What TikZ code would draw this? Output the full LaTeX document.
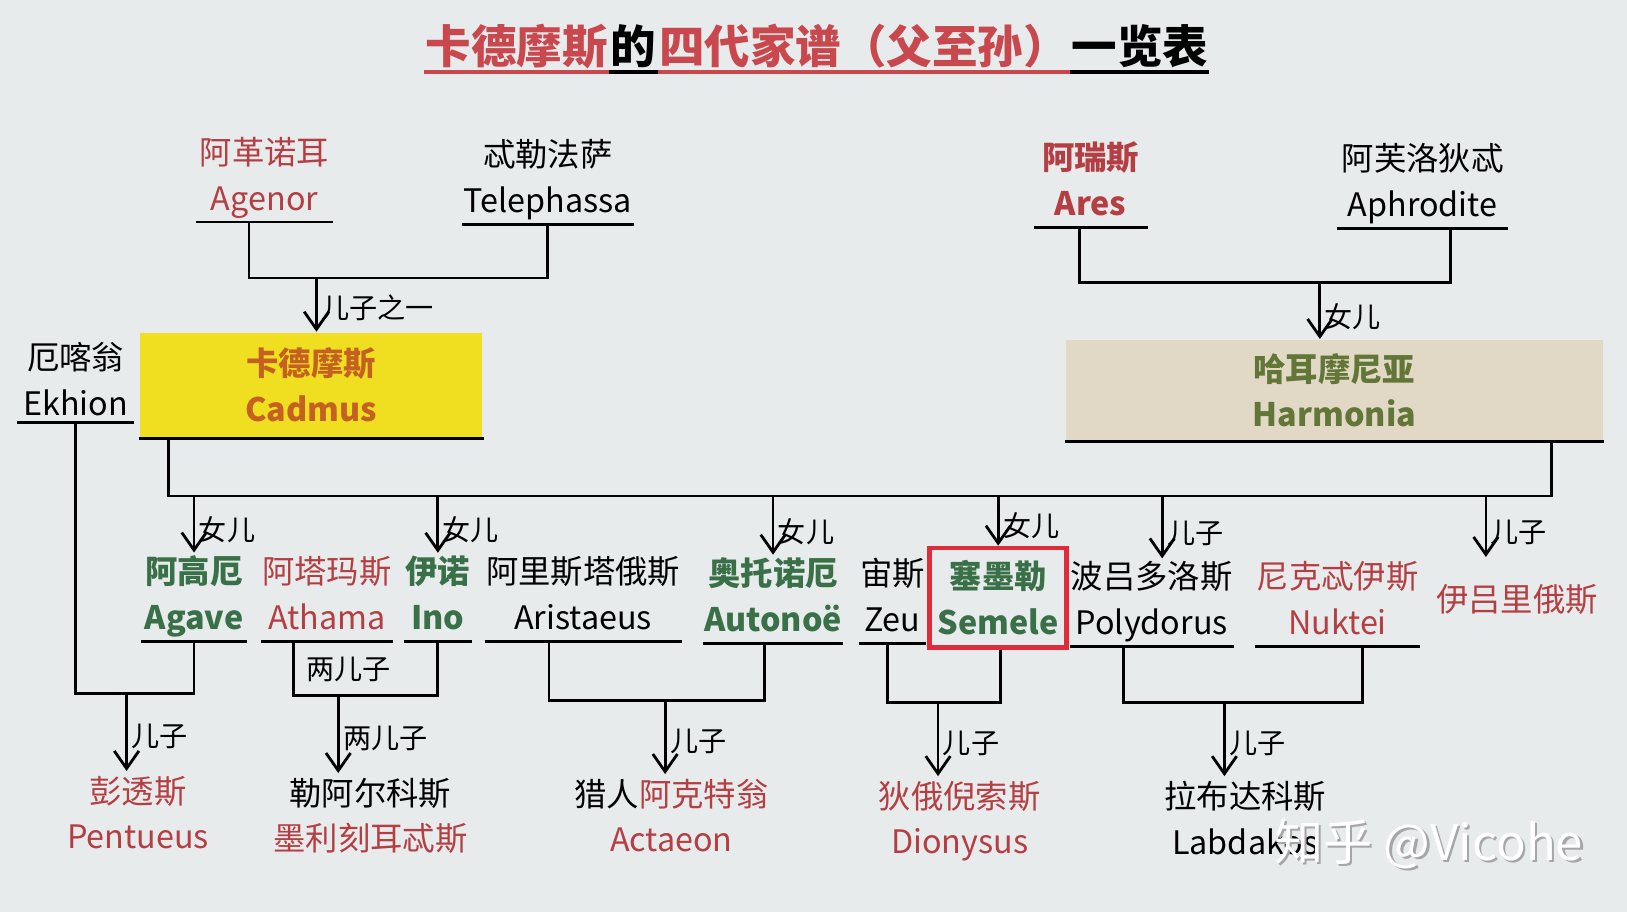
\documentclass[tikz,border=0pt]{standalone}
\usepackage{fontspec}
\setmainfont{Noto Sans CJK SC}
\usetikzlibrary{arrows.meta,chains,positioning,calc}

\definecolor{paper}{RGB}{231,235,236}
\definecolor{namered}{RGB}{180,62,66}
\definecolor{titlered}{RGB}{200,72,78}
\definecolor{namegreen}{RGB}{58,112,72}
\definecolor{olive}{RGB}{98,118,56}
\definecolor{cadorange}{RGB}{196,96,34}
\definecolor{cadyellow}{RGB}{240,222,32}
\definecolor{harbeige}{RGB}{225,216,198}
\definecolor{boxred}{RGB}{222,44,58}
\newcommand\namefont{\fontsize{9.2}{13}\selectfont}

\begin{document}
\begin{tikzpicture}[x=0.010376cm, y=-0.010376cm,
node distance=0pt,
 start chain = T going right,
 line width=0.8pt,
     ttl/.style = {inner sep=0pt, text height=11.2pt, text depth=2pt,% title pieces (chain)
                   font=\fontsize{12.95}{16}\selectfont\bfseries, on chain},
  person/.style = {align=center, anchor=south, inner xsep=0pt, inner ysep=0.5pt,
                   text depth=2.5pt, font=\namefont},
     box/.style = {align=center, inner sep=0pt, font=\namefont\bfseries},
     kid/.style = {align=center, anchor=north, inner sep=1pt, font=\namefont},
      hw/.style = {font=\fontsize{8}{8}\selectfont, inner sep=1pt},% handwritten notes
     arr/.style = {-{Straight Barb[length=5pt,width=7pt]}},
      wm/.style = {font=\fontsize{14}{14}\selectfont},
                        ]
\fill[paper] (0,0) rectangle (1568,879);
\useasboundingbox (0,0) rectangle (1568,879);

% title
\node[ttl, anchor=west, text=titlered] at (409,46) {卡德摩斯};
\node[ttl] {的};
\node[ttl, text=titlered] {四代家谱（父至孙）};
\node[ttl] {一览表};
\foreach \i/\c in {1/titlered,2/black,3/titlered,4/black}
    \draw[\c, line width=1.1pt] (T-\i.south west) -- (T-\i.south east);

% first generation
\node[person, text=namered, minimum width=38.4pt] (agenor) at (255,214) {阿革诺耳\\Agenor};
\node[person, minimum width=48.1pt] (telephassa) at (528,216) {忒勒法萨\\Telephassa};
\node[person, text=namered, minimum width=31.6pt, font=\namefont\bfseries] (ares) at (1051,219) {阿瑞斯\\Ares};
\node[person, minimum width=47.8pt] (aphrodite) at (1371,220) {阿芙洛狄忒\\Aphrodite};

% second generation
\node[box, fill=cadyellow, text=cadorange, minimum width=97.4pt, minimum height=29.5pt] (cadmus) at (300,371) {卡德摩斯\\Cadmus};
\node[box, fill=harbeige, text=olive, minimum width=152.6pt, minimum height=28.3pt] (harmonia) at (1286,376) {哈耳摩尼亚\\Harmonia};
\node[person, minimum width=32.5pt, text depth=1pt] (ekhion) at (73,407) {厄喀翁\\Ekhion};
\draw (cadmus.south west) -- (cadmus.south east);
\draw (harmonia.south west) -- (harmonia.south east);

% third generation
\node[person, text=namegreen, minimum width=29.5pt, font=\namefont\bfseries] (agave) at (187,618) {阿高厄\\Agave};
\node[person, text=namered, minimum width=35.4pt] (athama) at (315,618) {阿塔玛斯\\Athama};
\node[person, text=namegreen, minimum width=17.4pt, font=\namefont\bfseries] (ino) at (422,618) {伊诺\\Ino};
\node[person, minimum width=47.2pt] (aristaeus) at (562,618) {阿里斯塔俄斯\\Aristaeus};
\node[person, text=namegreen, minimum width=38.4pt, font=\namefont\bfseries] (autonoe) at (745,620) {奥托诺厄\\Autonoë};
\node[person, minimum width=16.2pt] (zeus) at (860,620) {宙斯\\Zeu};
\node[box, draw=boxred, line width=1.3pt, text=namegreen, minimum width=39pt, minimum height=28.3pt] (semele) at (962,576) {塞墨勒\\Semele};
\node[person, minimum width=42.8pt] (polydorus) at (1110,623) {波吕多洛斯\\Polydorus};
\node[person, text=namered, minimum width=42.5pt] (nuktei) at (1289,623) {尼克忒伊斯\\Nuktei};
\node[text=namered, font=\namefont] (ilyr) at (1462,578) {伊吕里俄斯};

\foreach \n in {agenor,telephassa,ares,aphrodite,ekhion,agave,athama,ino,aristaeus,autonoe,zeus,polydorus,nuktei}
    \draw (\n.south west) -- (\n.south east);

% fourth generation
\node[kid, text=namered] (pentheus) at (133,743) {彭透斯\\Pentueus};
\node[kid] (learchus) at (357,745) {勒阿尔科斯\\\textcolor{namered}{墨利刻耳忒斯}};
\node[kid] (actaeon) at (647,746) {猎人\textcolor{namered}{阿克特翁}\\\textcolor{namered}{Actaeon}};
\node[kid, text=namered] (dionysus) at (925,748) {狄俄倪索斯\\Dionysus};
\node[kid] (labdakos) at (1200,748) {拉布达科斯\\Labdakos};

% parents -> children
\coordinate (jCad) at (305,268);
\draw ($(agenor.south)+(-15,0)$) |- (jCad) -| (telephassa.south);
\draw[arr] (jCad) -- (jCad |- cadmus.north) node[hw, right, pos=.55] {儿子之一};
\coordinate (jHar) at (1272,272);
\draw ($(ares.south)+(-11,0)$) |- (jHar) -| ($(aphrodite.south)+(27,0)$);
\draw[arr] (jHar) -- (jHar |- harmonia.north) node[hw, right, pos=.6] {女儿};

\coordinate (busL) at (162,478);
\coordinate (busR) at (1495,478);
\draw (cadmus.south -| busL) -- (busL) -- (busR) -- (harmonia.south -| busR);
\foreach \n/\t in {agave/女儿,ino/女儿,autonoe/女儿,semele/女儿}
    \draw[arr] (busL -| \n.north) -- (\n.north) node[hw, right, pos=.6] {\t};
\coordinate (aPol) at ($(polydorus.north)+(10,0)$);
\draw[arr] (busL -| aPol) -- (aPol) node[hw, right, pos=.6] {儿子};
\coordinate (aIly) at ($(ilyr.north)+(-30,-14)$);
\draw[arr] (busL -| aIly) -- (aIly) node[hw, right, pos=.6] {儿子};

\coordinate (jPen) at (122,668);
\draw (ekhion.south) |- (jPen) -| (agave.south);
\draw[arr] (jPen) -- (jPen |- pentheus.north) node[hw, right, pos=.55] {儿子};
\coordinate (jLea) at (326,670);
\draw ($(athama.south)+(-32,0)$) |- (jLea) -| (ino.south);
\node[hw] (twoA) at (336,645) {两儿子};
\draw[arr] (jLea) -- (jLea |- learchus.north) node[hw, right, pos=.55] {两儿子};
\coordinate (jAct) at (641,675);
\draw ($(aristaeus.south)+(-33,0)$) |- (jAct) -| ($(autonoe.south)+(-8,0)$);
\draw[arr] (jAct) -- (jAct |- actaeon.north) node[hw, right, pos=.55] {儿子};
\coordinate (jDio) at (904,677);
\draw ($(zeus.south)+(-5,0)$) |- (jDio) -| ($(semele.south)+(2,0)$);
\draw[arr] (jDio) -- (jDio |- dionysus.north) node[hw, right, pos=.55] {儿子};
\coordinate (jLab) at (1180,677);
\draw ($(polydorus.south)+(-27,0)$) |- (jLab) -| ($(nuktei.south)+(24,0)$);
\draw[arr] (jLab) -- (jLab |- labdakos.north) node[hw, right, pos=.55] {儿子};

% watermark
\node[wm, text=gray!70] (wmS) at (1379,815) {知乎 @Vicohe};
\node[wm, text=white] (wmF) at (1377,813) {知乎 @Vicohe};
\end{tikzpicture}
\end{document}
